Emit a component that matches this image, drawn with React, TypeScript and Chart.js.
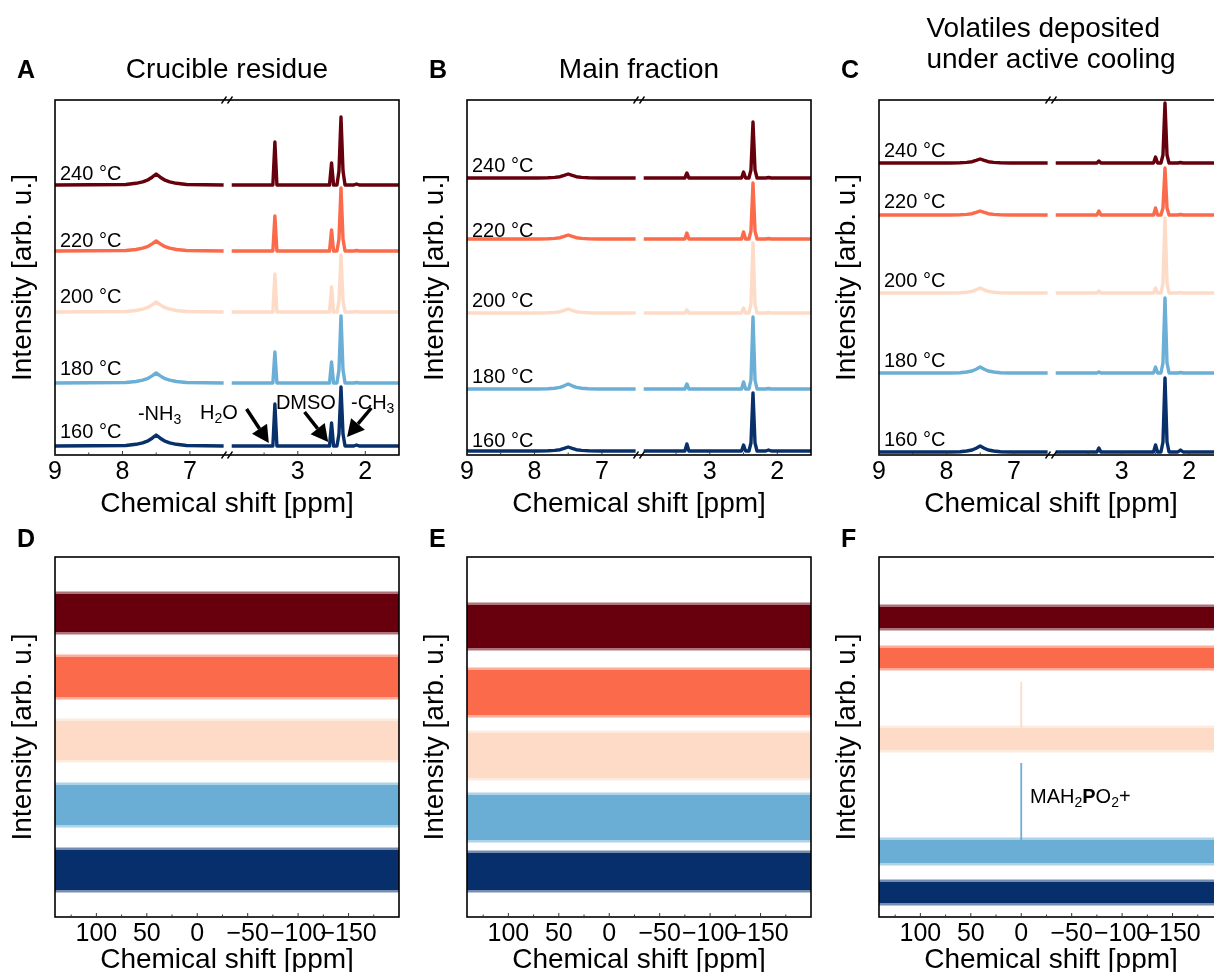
import React, { useEffect, useRef } from 'react';
import { Chart, registerables, LinearScale } from 'chart.js';

Chart.register(...registerables);

const FONT = "'Liberation Sans', Arial, Helvetica, sans-serif";

// ---------- series meta ----------
const TEMPS = ['240 °C', '220 °C', '200 °C', '180 °C', '160 °C'];
const COLORS = ['#67000d', '#fb6a4a', '#fddbc7', '#6baed6', '#08306b'];

// ---------- 1H axis (broken) ----------
const SEG_LEFT = [9.0, 6.45];
const SEG_RIGHT = [4.05, 1.5];
const H_MAJOR = [9, 8, 7, 3, 2];
const H_MINOR = [8.5, 7.5, 3.5, 2.5];

// ---------- 31P axis ----------
const P_RANGE = [141, -200];
const P_MAJOR = [100, 50, 0, -50, -100, -150];
const P_MINOR = [125, 75, 25, -25, -75, -125, -175];

// ---------- 1H spectra (chemical shift, ppm); null = axis break ----------
const PPM = [9.0, 7.95, 7.8, 7.7, 7.62, 7.56, 7.5, 7.44, 7.38, 7.3, 7.2, 7.05, 6.5, 5.25, 3.98, 3.37, 3.34, 3.31, 2.53, 2.5, 2.47, 2.42, 2.39, 2.36, 2.33, 2.3, 2.17, 2.13, 2.09, 1.5];

// Crucible residue
const A_240 = [0, 0.5, 1.7, 3.2, 5.2, 7.8, 11, 7.8, 5.2, 3.2, 1.7, 0.5, 0, null, 0, 0, 43, 0, 0, 22, 0, 0, 14, 68, 14, 0, 0, 1, 0, 0];
const A_220 = [0, 0.5, 1.5, 2.9, 4.7, 7.1, 10, 7.1, 4.7, 2.9, 1.5, 0.5, 0, null, 0, 0, 35, 0, 0, 21, 0, 0, 12, 63, 12, 0, 0, 0.5, 0, 0];
const A_200 = [0, 0.5, 1.5, 2.9, 4.7, 7.1, 10, 7.1, 4.7, 2.9, 1.5, 0.5, 0, null, 0, 0, 38, 0, 0, 25, 0, 0, 11, 57, 11, 0, 0, 0.5, 0, 0];
const A_180 = [0, 0.5, 1.5, 2.9, 4.7, 7.1, 10, 7.1, 4.7, 2.9, 1.5, 0.5, 0, null, 0, 0, 31, 0, 0, 21, 0, 0, 13, 67, 13, 0, 0, 0.5, 0, 0];
const A_160 = [0, 0.5, 1.7, 3.2, 5.2, 7.8, 11, 7.8, 5.2, 3.2, 1.7, 0.5, 0, null, 0, 0, 42, 0, 0, 23, 0, 0, 12, 59, 12, 0, 0, 1, 0, 0];
const A_OFFSET = [270, 204, 143, 72, 9];
const A_LABEL_Y = [275, 208, 152, 80, 17];

// Main fraction
const B_240 = [0, 0, 0.2, 0.6, 1.3, 2.6, 4, 2.6, 1.3, 0.6, 0.2, 0, 0, null, 0, 0, 5, 0, 0, 6, 0, 0, 8, 56, 8, 0, 0, 0.5, 0, 0];
const B_220 = [0, 0, 0.2, 0.6, 1.3, 2.6, 4, 2.6, 1.3, 0.6, 0.2, 0, 0, null, 0, 0, 6, 0, 0, 7, 0, 0, 8, 56, 8, 0, 0, 0.5, 0, 0];
const B_200 = [0, 0, 0.2, 0.6, 1.3, 2.6, 4, 2.6, 1.3, 0.6, 0.2, 0, 0, null, 0, 0, 3, 0, 0, 5, 0, 0, 9, 70, 9, 0, 0, 0.5, 0, 0];
const B_180 = [0, 0, 0.3, 0.8, 1.6, 3.2, 5, 3.2, 1.6, 0.8, 0.3, 0, 0, null, 0, 0, 5, 0, 0, 7, 0, 0, 9, 72, 9, 0, 0, 0.5, 0, 0];
const B_160 = [0, 0, 0.2, 0.6, 1.3, 2.6, 4, 2.6, 1.3, 0.6, 0.2, 0, 0, null, 0, 0, 7, 0, 0, 6, 0, 0, 8, 58, 8, 0, 0, 1, 0, 0];
const B_OFFSET = [277, 216, 142, 66, 4];
const B_LABEL_Y = [283, 218, 148, 72, 8];

// Volatiles deposited under active cooling
const C_240 = [0, 0, 0.2, 0.6, 1.3, 2.6, 4, 2.6, 1.3, 0.6, 0.2, 0, 0, null, 0, 0, 2, 0, 0, 6, 0, 0, 8, 60, 8, 0, 0, 0.5, 0, 0];
const C_220 = [0, 0, 0.2, 0.6, 1.3, 2.6, 4, 2.6, 1.3, 0.6, 0.2, 0, 0, null, 0, 0, 4, 0, 0, 7, 0, 0, 7, 47, 7, 0, 0, 0.5, 0, 0];
const C_200 = [0, 0, 0.3, 0.8, 1.6, 3.2, 5, 3.2, 1.6, 0.8, 0.3, 0, 0, null, 0, 0, 2, 0, 0, 5, 0, 0, 10, 75, 10, 0, 0, 0.5, 0, 0];
const C_180 = [0, 0, 0.3, 1, 2, 3.8, 6, 3.8, 2, 1, 0.3, 0, 0, null, 0, 0, 1, 0, 0, 6, 0, 0, 10, 75, 10, 0, 0, 0.5, 0, 0];
const C_160 = [0, 0, 0.3, 1, 2, 3.8, 6, 3.8, 2, 1, 0.3, 0, 0, null, 0, 0, 4, 0, 0, 7, 0, 0, 10, 74, 10, 0, 0, 2, 0, 0];
const C_OFFSET = [292, 240, 162, 82, 3];
const C_LABEL_Y = [298, 247, 168, 88, 9];

// Peak annotations in panel A (ppm, intensity)
const A_NOTE_TEXT: [string, number][][] = [
  [['-NH', 0], ['3', 1]],
  [['H', 0], ['2', 1], ['O', 0]],
  [['DMSO', 0]],
  [['-CH', 0], ['3', 1]],
];
const A_NOTE_X = [7.45, 6.57, 2.88, 1.89];
const A_NOTE_Y = [35, 36, 46, 46];
const A_ARROW_FROM_X = [3.76, 2.9, 1.91];
const A_ARROW_FROM_Y = [46, 43, 47];
const A_ARROW_TO_X = [3.43, 2.55, 2.27];
const A_ARROW_TO_Y = [12, 13, 18];

// ---------- 31P noise bands (lower / upper envelope) ----------
const D_LOW = [285, 220, 157, 92, 27];
const D_HIGH = [323, 260, 196, 132, 67];
const E_LOW = [269, 202, 139, 77, 27];
const E_HIGH = [312, 247, 184, 122, 64];
const F_LOW = [289, 249, 167, 54, 14];
const F_HIGH = [310, 269, 189, 77, 35];
const F_SPIKE_PPM = [0, 0];
const F_SPIKE_TOP = [235, 154];
const F_SPIKE_SERIES = [2, 3];
const F_NOTE_TEXT: [string, number][] = [['MAH', 0], ['2', 1], ['P', 2], ['O', 0], ['2', 1], ['+', 0]];
const F_NOTE_X = -8.7;
const F_NOTE_Y = 114;

// ---------- layout ----------
const BOX_LEFTS = [55, 467, 879];
const BOX_W = 344;
const Y_AXIS_W = 49;
const RIGHT_PAD = 20;
const ROWS = {
  top: { canvasTop: 0, canvasH: 520, chartTop: 100, chartBottom: 455, letterBase: 78, titlePb: -1, tickPad: -6, yMax: 355, tickSize: 25 },
  bottom: { canvasTop: 520, canvasH: 452, chartTop: 557, chartBottom: 917, letterBase: 547, titlePb: -5, tickPad: -6, yMax: 360, tickSize: 25 },
};

class BrokenScale extends LinearScale {
  static id = 'broken';
  static defaults = LinearScale.defaults;
  getPixelForValue(value: any) {
    if (value === null || value === undefined || isNaN(value)) return NaN;
    const half = (this.right - this.left) / 2;
    const [a0, a1] = SEG_LEFT;
    const [b0, b1] = SEG_RIGHT;
    if (value >= a1) return this.left + ((a0 - value) / (a0 - a1)) * half;
    if (value <= b0) return this.left + half + ((b0 - value) / (b0 - b1)) * half;
    return this.left + half;
  }
  getValueForPixel(pixel: number) {
    const half = (this.right - this.left) / 2;
    const [a0, a1] = SEG_LEFT;
    const [b0, b1] = SEG_RIGHT;
    const d = pixel - this.left;
    if (d <= half) return a0 - (d / half) * (a0 - a1);
    return b0 - ((d - half) / half) * (b0 - b1);
  }
}
Chart.register(BrokenScale as any);

const fmt = (v: number) => (v < 0 ? '\u2212' + Math.abs(v) : String(v));

function rgba(hex: string, a: number) {
  const n = parseInt(hex.slice(1), 16);
  return `rgba(${(n >> 16) & 255},${(n >> 8) & 255},${n & 255},${a})`;
}

function drawRich(ctx: CanvasRenderingContext2D, segs: [string, number][], x: number, y: number, size: number, align: 'center' | 'left') {
  const fontFor = (k: number) => (k === 1 ? `${Math.round(size * 0.68)}px ${FONT}` : k === 2 ? `bold ${size}px ${FONT}` : `${size}px ${FONT}`);
  let total = 0;
  const widths = segs.map(([t, k]) => {
    ctx.font = fontFor(k);
    const w = ctx.measureText(t).width;
    total += w;
    return w;
  });
  let cx = align === 'center' ? x - total / 2 : x;
  ctx.textAlign = 'left';
  ctx.textBaseline = 'alphabetic';
  segs.forEach(([t, k], i) => {
    ctx.font = fontFor(k);
    ctx.fillText(t, cx, y + (k === 1 ? size * 0.22 : 0));
    cx += widths[i];
  });
}

function drawArrow(ctx: CanvasRenderingContext2D, x1: number, y1: number, x2: number, y2: number) {
  const ang = Math.atan2(y2 - y1, x2 - x1);
  const hl = 17;
  const hw = 9;
  const bx = x2 - hl * Math.cos(ang);
  const by = y2 - hl * Math.sin(ang);
  ctx.strokeStyle = '#000';
  ctx.fillStyle = '#000';
  ctx.lineWidth = 3.5;
  ctx.beginPath();
  ctx.moveTo(x1, y1);
  ctx.lineTo(bx, by);
  ctx.stroke();
  ctx.beginPath();
  ctx.moveTo(x2, y2);
  ctx.lineTo(bx + hw * Math.sin(ang), by - hw * Math.cos(ang));
  ctx.lineTo(bx - hw * Math.sin(ang), by + hw * Math.cos(ang));
  ctx.closePath();
  ctx.fill();
}

type PanelSpec = {
  key: string;
  row: 'top' | 'bottom';
  col: number;
  letter: string;
  title: string[];
  titleBase: number[];
  spectra?: (number | null)[][];
  offsets?: number[];
  labelY?: number[];
  low?: number[];
  high?: number[];
  annotateA?: boolean;
  spikesF?: boolean;
};

const PANELS: PanelSpec[] = [
  { key: 'A', row: 'top', col: 0, letter: 'A', title: ['Crucible residue'], titleBase: [78], spectra: [A_240, A_220, A_200, A_180, A_160], offsets: A_OFFSET, labelY: A_LABEL_Y, annotateA: true },
  { key: 'B', row: 'top', col: 1, letter: 'B', title: ['Main fraction'], titleBase: [78], spectra: [B_240, B_220, B_200, B_180, B_160], offsets: B_OFFSET, labelY: B_LABEL_Y },
  { key: 'C', row: 'top', col: 2, letter: 'C', title: ['Volatiles deposited', 'under active cooling'], titleBase: [37, 68], spectra: [C_240, C_220, C_200, C_180, C_160], offsets: C_OFFSET, labelY: C_LABEL_Y },
  { key: 'D', row: 'bottom', col: 0, letter: 'D', title: [], titleBase: [], low: D_LOW, high: D_HIGH },
  { key: 'E', row: 'bottom', col: 1, letter: 'E', title: [], titleBase: [], low: E_LOW, high: E_HIGH },
  { key: 'F', row: 'bottom', col: 2, letter: 'F', title: [], titleBase: [], low: F_LOW, high: F_HIGH, spikesF: true },
];

function canvasGeom(p: PanelSpec) {
  const r = ROWS[p.row];
  return {
    left: BOX_LEFTS[p.col] - Y_AXIS_W,
    top: r.canvasTop,
    width: Y_AXIS_W + BOX_W + RIGHT_PAD,
    height: r.canvasH,
  };
}

function makeDecor(p: PanelSpec) {
  const r = ROWS[p.row];
  return {
    id: 'decor' + p.key,
    afterDraw(chart: any) {
      const ctx: CanvasRenderingContext2D = chart.ctx;
      const { left, right, top, bottom } = chart.chartArea;
      const xs = chart.scales.x;
      const ys = chart.scales.y;
      ctx.save();
      // frame
      ctx.strokeStyle = '#000';
      ctx.lineWidth = 1.6;
      ctx.strokeRect(left, top, right - left, bottom - top);
      // inward ticks
      const majors = p.row === 'top' ? H_MAJOR : P_MAJOR;
      const minors = p.row === 'top' ? H_MINOR : P_MINOR;
      ctx.strokeStyle = '#333';
      ctx.lineWidth = 1;
      majors.forEach((v) => {
        const px = xs.getPixelForValue(v);
        ctx.beginPath();
        ctx.moveTo(px, bottom);
        ctx.lineTo(px, bottom - 4);
        ctx.stroke();
      });
      minors.forEach((v) => {
        const px = xs.getPixelForValue(v);
        ctx.beginPath();
        ctx.moveTo(px, bottom);
        ctx.lineTo(px, bottom - 2.5);
        ctx.stroke();
      });
      // axis break marks
      if (p.row === 'top') {
        const xm = left + (right - left) / 2;
        ctx.strokeStyle = '#000';
        ctx.lineWidth = 1.3;
        [top, bottom].forEach((yy) => {
          [-3, 3].forEach((dx) => {
            ctx.beginPath();
            ctx.moveTo(xm + dx - 2.5, yy + 3.5);
            ctx.lineTo(xm + dx + 2.5, yy - 3.5);
            ctx.stroke();
          });
        });
      }
      // panel letter
      ctx.fillStyle = '#000';
      ctx.font = `bold 25px ${FONT}`;
      ctx.textAlign = 'left';
      ctx.textBaseline = 'alphabetic';
      ctx.fillText(p.letter, left - 38, r.letterBase - r.canvasTop);
      // title
      if (p.title.length) {
        ctx.font = `28px ${FONT}`;
        const cx = left + (right - left) / 2;
        const maxW = Math.max(...p.title.map((t) => ctx.measureText(t).width));
        p.title.forEach((t, i) => {
          if (p.title.length === 1) {
            ctx.textAlign = 'center';
            ctx.fillText(t, cx, p.titleBase[i] - r.canvasTop);
          } else {
            ctx.textAlign = 'left';
            ctx.fillText(t, cx - maxW / 2, p.titleBase[i] - r.canvasTop);
          }
        });
      }
      // temperature labels
      if (p.labelY) {
        ctx.font = `20px ${FONT}`;
        ctx.textAlign = 'left';
        ctx.fillStyle = '#000';
        p.labelY.forEach((ly, k) => {
          ctx.fillText(TEMPS[k], left + 5, ys.getPixelForValue(ly));
        });
      }
      // peak annotations
      if (p.annotateA) {
        A_NOTE_TEXT.forEach((segs, i) => {
          ctx.fillStyle = '#000';
          drawRich(ctx, segs, xs.getPixelForValue(A_NOTE_X[i]), ys.getPixelForValue(A_NOTE_Y[i]), 20, 'center');
        });
        A_ARROW_FROM_X.forEach((_, i) => {
          drawArrow(
            ctx,
            xs.getPixelForValue(A_ARROW_FROM_X[i]),
            ys.getPixelForValue(A_ARROW_FROM_Y[i]),
            xs.getPixelForValue(A_ARROW_TO_X[i]),
            ys.getPixelForValue(A_ARROW_TO_Y[i])
          );
        });
      }
      if (p.spikesF) {
        ctx.fillStyle = '#000';
        drawRich(ctx, F_NOTE_TEXT, xs.getPixelForValue(F_NOTE_X), ys.getPixelForValue(F_NOTE_Y), 20, 'left');
      }
      ctx.restore();
    },
  };
}

function buildConfig(p: PanelSpec): any {
  const r = ROWS[p.row];
  const xAxisH = r.canvasTop + r.canvasH - r.chartBottom;
  const datasets: any[] = [];
  if (p.row === 'top' && p.spectra && p.offsets) {
    p.spectra.forEach((ys, k) => {
      datasets.push({
        data: PPM.map((x, j) => ({ x, y: ys[j] === null ? null : (ys[j] as number) + p.offsets![k] })),
        borderColor: COLORS[k],
        borderWidth: 3.4,
        borderJoinStyle: 'round',
        pointRadius: 0,
        tension: 0,
        spanGaps: false,
        fill: false,
      });
    });
  } else if (p.low && p.high) {
    const FUZZ = 2.5;
    p.low.forEach((lo, k) => {
      const hi = p.high![k];
      const edge = (y: number) => [{ x: P_RANGE[0], y }, { x: P_RANGE[1], y }];
      datasets.push({ data: edge(lo - FUZZ), borderWidth: 0, pointRadius: 0, fill: false });
      datasets.push({ data: edge(hi + FUZZ), borderWidth: 0, pointRadius: 0, fill: '-1', backgroundColor: rgba(COLORS[k], 0.55) });
      datasets.push({ data: edge(lo), borderWidth: 0, pointRadius: 0, fill: false });
      datasets.push({ data: edge(hi), borderWidth: 0, pointRadius: 0, fill: '-1', backgroundColor: COLORS[k] });
    });
    if (p.spikesF) {
      F_SPIKE_PPM.forEach((x, i) => {
        const k = F_SPIKE_SERIES[i];
        datasets.push({
          data: [{ x, y: (p.low![k] + p.high![k]) / 2 }, { x, y: F_SPIKE_TOP[i] }],
          borderColor: COLORS[k],
          borderWidth: 1.8,
          pointRadius: 0,
          fill: false,
        });
      });
    }
  }

  const tickFont = { family: FONT, size: r.tickSize };
  const titleFont = { family: FONT, size: 28 };
  const xScale: any =
    p.row === 'top'
      ? { type: 'broken', min: 1.5, max: 9 }
      : { type: 'linear', min: P_RANGE[1], max: P_RANGE[0], reverse: true };
  Object.assign(xScale, {
    afterBuildTicks: (s: any) => {
      s.ticks = (p.row === 'top' ? H_MAJOR : P_MAJOR).map((v) => ({ value: v }));
    },
    afterFit: (s: any) => {
      s.height = xAxisH;
    },
    grid: { display: false },
    border: { display: false },
    ticks: { autoSkip: false, maxRotation: 0, minRotation: 0, padding: r.tickPad, font: tickFont, color: '#000', callback: (v: number) => fmt(v) },
    title: { display: true, text: 'Chemical shift [ppm]', font: titleFont, color: '#000', padding: { top: 0, bottom: r.titlePb } },
  });

  return {
    type: 'line',
    data: { datasets },
    options: {
      animation: false,
      responsive: false,
      events: [],
      layout: { padding: { top: r.chartTop - r.canvasTop, right: RIGHT_PAD, left: 0, bottom: 0 }, autoPadding: false },
      plugins: { legend: { display: false }, tooltip: { enabled: false }, title: { display: false } },
      scales: {
        x: xScale,
        y: {
          type: 'linear',
          min: 0,
          max: r.yMax,
          afterFit: (s: any) => {
            s.width = Y_AXIS_W;
          },
          grid: { display: false },
          border: { display: false },
          ticks: { display: false },
          title: { display: true, text: 'Intensity [arb. u.]', font: titleFont, color: '#000', padding: { top: 0, bottom: 0 } },
        },
      },
    },
    plugins: [makeDecor(p)],
  };
}

function Panel({ spec }: { spec: PanelSpec }) {
  const ref = useRef<HTMLCanvasElement>(null);
  const g = canvasGeom(spec);
  useEffect(() => {
    const chart = new Chart(ref.current as HTMLCanvasElement, buildConfig(spec));
    return () => chart.destroy();
  }, []);
  return (
    <canvas
      ref={ref}
      width={g.width}
      height={g.height}
      style={{ position: 'absolute', left: g.left, top: g.top, width: g.width, height: g.height }}
    />
  );
}

export default function App() {
  return (
    <div style={{ position: 'absolute', left: 0, top: 0, width: 1214, height: 978, overflow: 'hidden', background: '#fff' }}>
      {PANELS.map((p) => (
        <Panel key={p.key} spec={p} />
      ))}
    </div>
  );
}
